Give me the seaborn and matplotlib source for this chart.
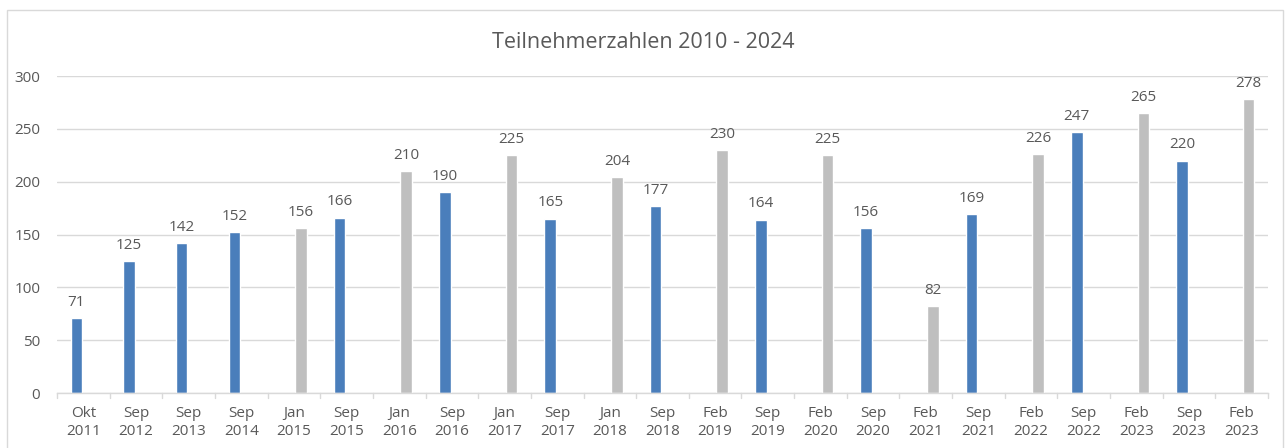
import matplotlib
matplotlib.use("Agg")
import matplotlib.pyplot as plt
import seaborn as sns
import pandas as pd
from matplotlib.patches import Rectangle

months = ["Okt", "Sep", "Sep", "Sep", "Jan", "Sep", "Jan", "Sep", "Jan", "Sep", "Jan", "Sep",
          "Feb", "Sep", "Feb", "Sep", "Feb", "Sep", "Feb", "Sep", "Feb", "Sep", "Feb"]
years = ["2011", "2012", "2013", "2014", "2015", "2015", "2016", "2016", "2017", "2017", "2018", "2018",
         "2019", "2019", "2020", "2020", "2021", "2021", "2022", "2022", "2023", "2023", "2023"]
values = [71, 125, 142, 152, 156, 166, 210, 190, 225, 165, 204, 177,
          230, 164, 225, 156, 82, 169, 226, 247, 265, 220, 278]
semester = ["Herbst" if m in ("Okt", "Sep") else "Frühjahr" for m in months]

df = pd.DataFrame({"pos": list(range(len(values))), "value": values, "sem": semester})
palette = {"Herbst": "#4a7ebb", "Frühjahr": "#bfbfbf"}

sns.set_theme(style="white")
plt.rcParams["font.family"] = ["Open Sans", "DejaVu Sans"]
txt = "#595959"

fig = plt.figure(figsize=(12.86, 4.48), dpi=100)
ax = fig.add_axes([57 / 1286, 1 - 393 / 448, 1211 / 1286, 317 / 448])
sns.barplot(data=df, x="pos", y="value", hue="sem", hue_order=["Herbst", "Frühjahr"],
            palette=palette, dodge=True, width=0.53, gap=0.17, legend=False, ax=ax,
            saturation=1)

for c in ax.containers:
    ax.bar_label(c, padding=6, fontsize=11, color=txt)

ax.set_ylim(0, 300)
ax.set_xlim(-0.5, len(values) - 0.5)
ax.set_yticks(range(0, 301, 50))
ax.yaxis.grid(True, color="#d9d9d9", linewidth=1)
ax.set_axisbelow(True)
ax.set_xticks(range(len(values)))
ax.set_xticklabels([f"{m}\n{y}" for m, y in zip(months, years)], fontsize=11, color=txt,
                   linespacing=1.3)
ax.tick_params(axis="y", labelsize=11, labelcolor=txt, length=0, pad=12)
ax.tick_params(axis="x", length=0, pad=9)
for b in [i - 0.5 for i in range(len(values) + 1)]:
    ax.plot([b, b], [0, -0.017], transform=ax.get_xaxis_transform(), color="#d9d9d9",
            linewidth=1, clip_on=False)
ax.set_xlabel("")
ax.set_ylabel("")
for s in ["top", "right", "left"]:
    ax.spines[s].set_visible(False)
ax.spines["bottom"].set_color("#d9d9d9")
ax.spines["bottom"].set_linewidth(1)

fig.text(0.5, 1 - 42 / 448, "Teilnehmerzahlen 2010 - 2024", ha="center", va="center",
         fontsize=15.5, color=txt)

fig.patches.append(Rectangle((7 / 1286, -0.01), 1276 / 1286, 1 - 10 / 448 + 0.01,
                             transform=fig.transFigure, fill=False, edgecolor="#d9d9d9",
                             linewidth=1))

fig.savefig("out.png", dpi=100)
